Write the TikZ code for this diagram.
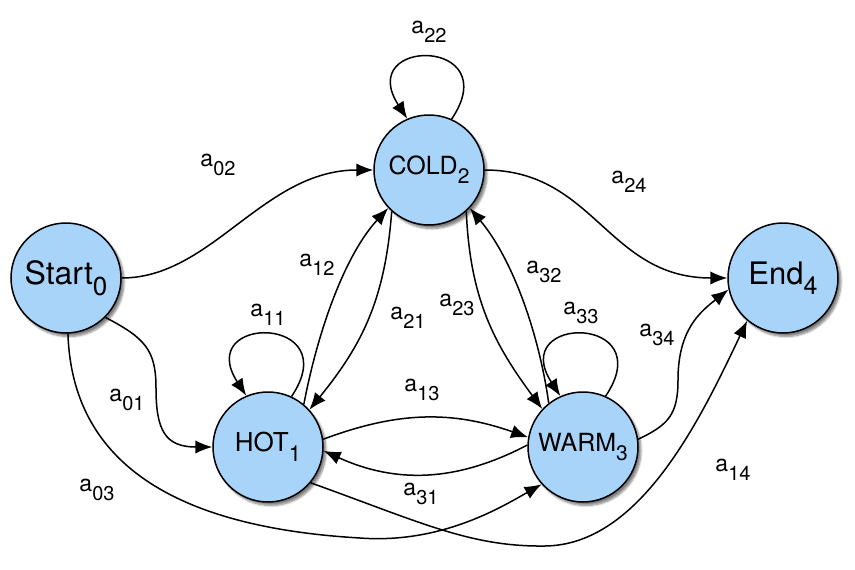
\documentclass[tikz,border=0pt]{standalone}
\usepackage{fontspec}
\setmainfont{TeX Gyre Heros}
\usetikzlibrary{arrows.meta,shadows.blur}
\definecolor{stfill}{RGB}{168,212,250}
\newcommand{\edgelab}[1]{{\fontsize{23}{23}\selectfont a\raisebox{-9pt}{\fontsize{20}{20}\selectfont #1}}}
\newcommand{\statetxt}[5]{{\fontsize{#3}{#3}\selectfont #1\raisebox{#5}{\fontsize{#4}{#4}\selectfont #2}}}
\begin{document}
\begin{tikzpicture}[x=1pt,y=-1pt,
  state/.style={circle,draw,line width=1.5pt,fill=stfill,minimum size=110pt,inner sep=0pt,
    blur shadow={shadow xshift=3pt,shadow yshift=-3.5pt,shadow blur steps=6,shadow opacity=50}},
  edge/.style={line width=1.5pt,-{Latex[length=17pt,width=13.5pt]}},
  lab/.style={inner sep=0pt}]
\useasboundingbox (0,0) rectangle (855,570);
% states
\node[state] (S) at (66,278) {\statetxt{Start}{0}{32}{26}{-11pt}};
\node[state] (C) at (429,170) {\statetxt{COLD}{2}{25}{21}{-9pt}};
\node[state] (H) at (268,447) {\statetxt{HOT}{1}{26}{22}{-10pt}};
\node[state] (W) at (583,447) {\statetxt{WARM}{3}{25}{21}{-9pt}};
\node[state] (E) at (783,278) {\statetxt{End}{4}{31}{25}{-10pt}};
% self loops
\draw[edge] (H.65) .. controls +(55,-82) and +(-53,-82) .. (H.113);
\draw[edge] (C.66) .. controls +(55,-82) and +(-53,-82) .. (C.113);
\draw[edge] (W.66) .. controls +(55,-82) and +(-53,-82) .. (W.114);
% edges from start
\draw[edge] (S.east) .. controls +(90,0) and +(-110,0) .. (C.west);
\draw[edge] (S.-45) .. controls (145,338) and (156,350) .. (156,388)
   .. controls (156,430) and (165,447) .. (H.west);
\draw[edge] (S.-88) .. controls (72,460) and (170,527) .. (360,538)
   .. controls (440,544) and (500,508) .. (W.-138);
% hot <-> cold
\draw[edge] (H.50) .. controls (318,330) and (345,255) .. (C.-137);
\draw[edge] (C.-132) .. controls (385,300) and (362,345) .. (H.42);
% cold <-> warm
\draw[edge] (C.-48) .. controls (470,300) and (495,345) .. (W.137);
\draw[edge] (W.128) .. controls (540,340) and (515,262) .. (C.-43);
% hot <-> warm
\draw[edge] (H.8) to[bend left=20] (W.170);
\draw[edge] (W.178) to[bend left=26] (H.-4);
% to end
\draw[edge] (C.east) .. controls +(110,0) and +(-120,0) .. (E.west);
\draw[edge] (W.8) .. controls (668,425) and (678,415) .. (678,380)
   .. controls (678,330) and (700,312) .. (E.-168);
\draw[edge] (H.-40) .. controls (420,522) and (470,547) .. (545,546)
   .. controls (640,545) and (700,420) .. (E.-130);
% labels
\node[lab] (l22) at (429,32) {\edgelab{22}};
\node[lab] (l02) at (218,165) {\edgelab{02}};
\node[lab] (l24) at (629,182) {\edgelab{24}};
\node[lab] (l12) at (317,265) {\edgelab{12}};
\node[lab] (l32) at (544,272) {\edgelab{32}};
\node[lab] (l23) at (457,305) {\edgelab{23}};
\node[lab] (l21) at (408,318) {\edgelab{21}};
\node[lab] (l11) at (268,315) {\edgelab{11}};
\node[lab] (l33) at (581,313) {\edgelab{33}};
\node[lab] (l34) at (657,335) {\edgelab{34}};
\node[lab] (l01) at (127,400) {\edgelab{01}};
\node[lab] (l13) at (422,390) {\edgelab{13}};
\node[lab] (l31) at (421,494) {\edgelab{31}};
\node[lab] (l03) at (97,490) {\edgelab{03}};
\node[lab] (l14) at (733,470) {\edgelab{14}};
\end{tikzpicture}
\end{document}
